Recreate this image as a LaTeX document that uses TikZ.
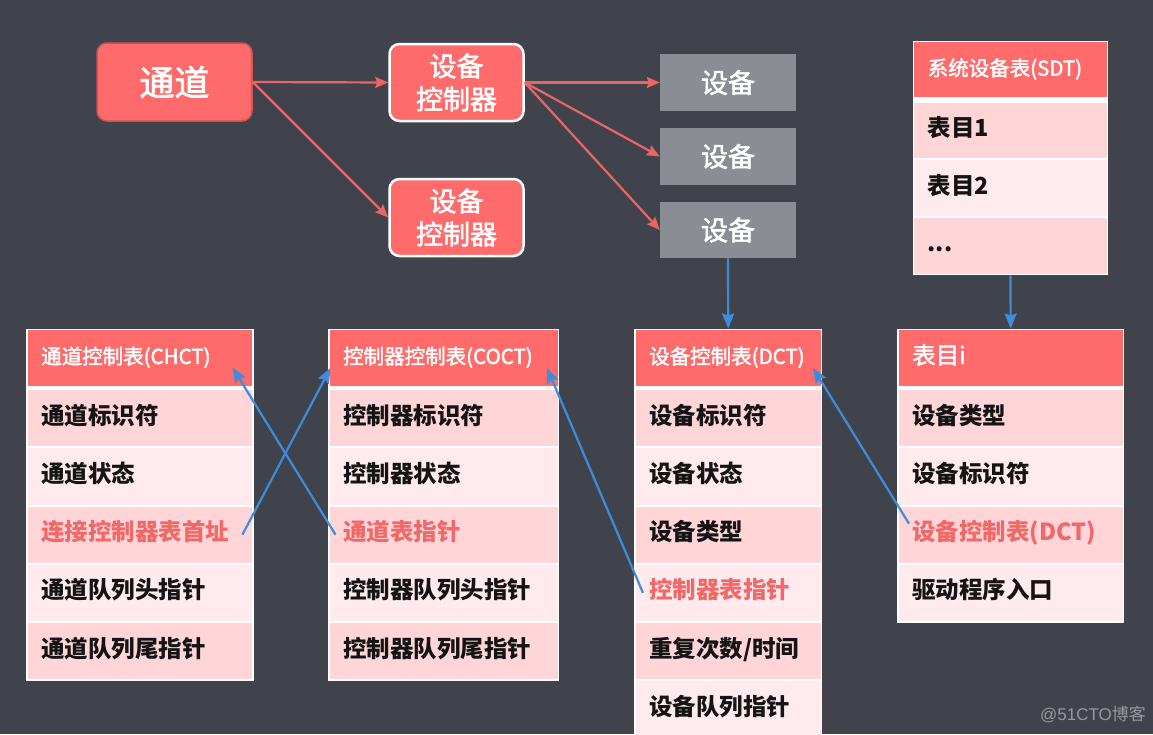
\documentclass[tikz,border=0pt]{standalone}
\usepackage{fontspec}
\setmainfont{Noto Sans CJK SC}
\newfontfamily\medfont[FakeBold=2]{Noto Sans CJK SC}
\newfontfamily\wmfont{Liberation Sans}
\usetikzlibrary{arrows.meta,calc}
\definecolor{bgc}{RGB}{65,67,76}
\definecolor{coral}{RGB}{255,107,107}
\definecolor{coraldark}{RGB}{205,82,82}
\definecolor{pinkD}{RGB}{255,213,216}
\definecolor{pinkL}{RGB}{255,235,237}
\definecolor{devgray}{RGB}{139,141,148}
\definecolor{bluearr}{RGB}{62,140,220}
\definecolor{redarr}{RGB}{234,102,102}
\definecolor{redtxt}{RGB}{240,104,104}
\definecolor{txt}{RGB}{20,20,20}
\definecolor{wmgray}{RGB}{150,152,158}
\begin{document}
\begin{tikzpicture}[x=1pt,y=-1pt,
  frame/.style={fill=white, anchor=north west, inner sep=0pt},
  cell/.style={anchor=north west, inner xsep=13.5pt, inner ysep=0pt, text height=1.2em, text depth=0em, align=left},
  hdr/.style={cell, fill=coral, text=white, font=\medfont\fontsize{20.5}{24}\selectfont, minimum height=55.5pt},
  rowD/.style={cell, fill=pinkD, text=txt, font=\bfseries\fontsize{23.5}{28}\selectfont, minimum height=56.2pt},
  rowL/.style={rowD, fill=pinkL},
  hot/.style={text=redtxt},
  ctrl/.style={draw=white, line width=2.5pt, fill=coral, rounded corners=10pt, minimum width=134pt, minimum height=77pt, text=white, align=center, font=\medfont\fontsize{27}{33}\selectfont},
  dev/.style={fill=devgray, minimum width=136pt, minimum height=56.5pt, text=white, font=\medfont\fontsize{27}{32}\selectfont},
  rarr/.style={draw=redarr, line width=2.2pt, -{Stealth[length=13pt,width=11pt,inset=2pt]}},
  barr/.style={draw=bluearr, line width=2.2pt, -{Stealth[length=15pt,width=12pt,inset=2pt]}}
]
\fill[bgc] (0,0) rectangle (1153,734);
\useasboundingbox (0,0) rectangle (1153,734);
\clip (0,0) rectangle (1153,734);

% top row
\node[draw=coraldark, line width=1.5pt, fill=coral, rounded corners=10pt, minimum width=155pt, minimum height=78pt, text=white, font=\medfont\fontsize{35}{40}\selectfont] (td) at (174.5,82) {通道};
\node[ctrl] (c1) at (456.5,82.5) {设备\\控制器};
\node[ctrl] (c2) at (456.5,217.5) {设备\\控制器};
\node[dev] (d1) at (728,82.5) {设备};
\node[dev] (d2) at (728,156.5) {设备};
\node[dev] (d3) at (728,230) {设备};

\draw[rarr] (td.east) -- (c1.west);
\draw[rarr] (td.east) -- (c2.west);
\draw[rarr] (c1.east) -- (d1.west);
\draw[rarr] (c1.east) -- (d2.west);
\draw[rarr] (c1.east) -- (d3.west);

% SDT
\node[frame, minimum width=195.5pt, minimum height=234.6pt] (sdt) at (912.5,40.5) {};
\node[hdr, minimum width=192.5pt, text width=165.5pt, minimum height=55pt] (sdt-h) at (914,42) {系统设备表(SDT)};
\node[rowD, minimum width=192.5pt, text width=165.5pt, minimum height=55.7pt] (sdt-1) at (914,102.5) {表目1};
\node[rowL, minimum width=192.5pt, text width=165.5pt, minimum height=55.7pt] (sdt-2) at (914,160.2) {表目2};
\node[rowD, minimum width=192.5pt, text width=165.5pt, minimum height=55.7pt] (sdt-3) at (914,217.9) {...};

% CHCT
\node[frame, minimum width=227.5pt, minimum height=352pt] (chct) at (26,328.5) {};
\node[hdr, minimum width=224.5pt, text width=197.5pt] (chct-h) at (27.5,330) {通道控制表(CHCT)};
\node[rowD, minimum width=224.5pt, text width=197.5pt] (chct-1) at (27.5,390) {通道标识符};
\node[rowL, minimum width=224.5pt, text width=197.5pt] (chct-2) at (27.5,448.2) {通道状态};
\node[rowD, hot, minimum width=224.5pt, text width=197.5pt] (chct-3) at (27.5,506.4) {连接控制器表首址};
\node[rowL, minimum width=224.5pt, text width=197.5pt] (chct-4) at (27.5,564.6) {通道队列头指针};
\node[rowD, minimum width=224.5pt, text width=197.5pt] (chct-5) at (27.5,622.8) {通道队列尾指针};

% COCT
\node[frame, minimum width=231pt, minimum height=352pt] (coct) at (328,328.5) {};
\node[hdr, minimum width=228pt, text width=201pt] (coct-h) at (329.5,330) {控制器控制表(COCT)};
\node[rowD, minimum width=228pt, text width=201pt] (coct-1) at (329.5,390) {控制器标识符};
\node[rowL, minimum width=228pt, text width=201pt] (coct-2) at (329.5,448.2) {控制器状态};
\node[rowD, hot, minimum width=228pt, text width=201pt] (coct-3) at (329.5,506.4) {通道表指针};
\node[rowL, minimum width=228pt, text width=201pt] (coct-4) at (329.5,564.6) {控制器队列头指针};
\node[rowD, minimum width=228pt, text width=201pt] (coct-5) at (329.5,622.8) {控制器队列尾指针};

% DCT
\node[frame, minimum width=188pt, minimum height=420pt] (dct) at (634,328.5) {};
\node[hdr, minimum width=185pt, text width=158pt] (dct-h) at (635.5,330) {设备控制表(DCT)};
\node[rowD, minimum width=185pt, text width=158pt] (dct-1) at (635.5,390) {设备标识符};
\node[rowL, minimum width=185pt, text width=158pt] (dct-2) at (635.5,448.2) {设备状态};
\node[rowD, minimum width=185pt, text width=158pt] (dct-3) at (635.5,506.4) {设备类型};
\node[rowL, hot, minimum width=185pt, text width=158pt] (dct-4) at (635.5,564.6) {控制器表指针};
\node[rowD, minimum width=185pt, text width=158pt] (dct-5) at (635.5,622.8) {重复次数/时间};
\node[rowL, minimum width=185pt, text width=158pt] (dct-6) at (635.5,681) {设备队列指针};

% Table entry i
\node[frame, minimum width=227pt, minimum height=293.8pt] (ent) at (897,328.5) {};
\node[hdr, font=\medfont\fontsize{23.5}{28}\selectfont, minimum width=224pt, text width=197pt] (ent-h) at (898.5,330) {表目i};
\node[rowD, minimum width=224pt, text width=197pt] (ent-1) at (898.5,390) {设备类型};
\node[rowL, minimum width=224pt, text width=197pt] (ent-2) at (898.5,448.2) {设备标识符};
\node[rowD, hot, minimum width=224pt, text width=197pt] (ent-3) at (898.5,506.4) {设备控制表(DCT)};
\node[rowL, minimum width=224pt, text width=197pt] (ent-4) at (898.5,564.6) {驱动程序入口};

% blue links
\draw[barr] (d3.south) -- (dct.north);
\draw[barr] (sdt.south) -- (ent.north);

\coordinate (a1s) at ($(chct-3.east)+(-10,0)$);
\coordinate (a1t) at ($(coct-h.west)+(1,10)$);
\coordinate (a2s) at ($(coct-3.west)+(6,0)$);
\coordinate (a2t) at ($(chct-h.west)+(205,9.5)$);
\coordinate (a3s) at ($(dct-4.west)+(7.5,0)$);
\coordinate (a3t) at ($(coct-h.west)+(217.5,10)$);
\coordinate (a4s) at ($(ent-3.west)+(10.5,-11)$);
\coordinate (a4t) at ($(dct-h.west)+(177.5,10)$);
\draw[barr] (a1s) -- (a1t);
\draw[barr] (a2s) -- (a2t);
\draw[barr] (a3s) -- (a3t);
\draw[barr] (a4s) -- (a4t);

% watermark
\node[text=wmgray, font=\fontsize{17}{20}\selectfont, inner sep=0pt] (wm) at (1093,714) {{\wmfont @51CTO}博客};
\end{tikzpicture}
\end{document}
